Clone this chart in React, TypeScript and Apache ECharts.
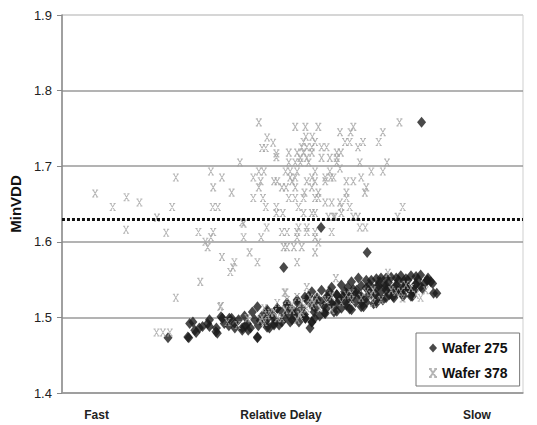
import React, { useEffect, useRef } from "react";
import * as echarts from "echarts";

// ---- data ----
const seriesNames = ["Wafer 275", "Wafer 378"];
const yTicks = { min: 1.4, max: 1.9, step: 0.1 };
const thresholdMinVDD = 1.625;
const xTickValues = [7.5, 47.5, 90];
const xTickLabels = ["Fast", "Relative Delay", "Slow"];

// Wafer 275 (dark diamonds): [relative delay, MinVDD]
const wafer275: number[][] = [
  [23.0, 1.473], [27.5, 1.473], [28.4, 1.494], [29.1, 1.48], [29.8, 1.486], [30.5, 1.488],
  [31.6, 1.492], [32.0, 1.497], [33.5, 1.486], [33.7, 1.479], [34.8, 1.499], [35.2, 1.492],
  [36.8, 1.499], [37.5, 1.492], [37.5, 1.486], [38.3, 1.497], [39.1, 1.486], [39.6, 1.502],
  [40.2, 1.492], [40.4, 1.483], [41.3, 1.507], [41.8, 1.497], [42.4, 1.514], [42.4, 1.473],
  [42.6, 1.489], [43.4, 1.502], [44.1, 1.494], [44.5, 1.51], [45.0, 1.486], [45.6, 1.504],
  [46.2, 1.497], [46.7, 1.512], [47.1, 1.49], [47.7, 1.507], [48.3, 1.499], [48.8, 1.516],
  [49.5, 1.494], [49.9, 1.51], [50.4, 1.502], [51.0, 1.52], [51.4, 1.494], [52.0, 1.512],
  [52.6, 1.504], [52.8, 1.499], [53.1, 1.523], [53.8, 1.486], [54.2, 1.494], [54.2, 1.516],
  [54.7, 1.507], [55.3, 1.526], [55.9, 1.502], [56.3, 1.52], [57.1, 1.505], [57.4, 1.512],
  [57.8, 1.528], [58.5, 1.518], [59.0, 1.507], [59.6, 1.53], [60.2, 1.523], [60.6, 1.512],
  [61.3, 1.534], [61.7, 1.518], [62.2, 1.526], [62.8, 1.51], [63.2, 1.537], [63.7, 1.52],
  [64.3, 1.53], [64.9, 1.542], [65.4, 1.514], [66.0, 1.526], [66.5, 1.536], [67.1, 1.549],
  [67.6, 1.518], [68.0, 1.531], [68.7, 1.542], [69.2, 1.552], [69.6, 1.523], [70.3, 1.536],
  [70.8, 1.546], [71.4, 1.553], [71.8, 1.528], [72.3, 1.54], [73.0, 1.549], [73.5, 1.555],
  [73.9, 1.531], [74.5, 1.541], [75.0, 1.549], [75.7, 1.555], [76.1, 1.534], [76.7, 1.544],
  [77.2, 1.55], [77.8, 1.556], [78.2, 1.538], [78.6, 1.545], [79.2, 1.549], [80.0, 1.547],
  [81.3, 1.532], [44.8, 1.5], [50.8, 1.507], [56.8, 1.515], [61.0, 1.528], [65.0, 1.52],
  [68.5, 1.526], [72.8, 1.535], [75.3, 1.538], [74.2, 1.548], [70.0, 1.541], [66.8, 1.543],
  [63.5, 1.532], [59.5, 1.517], [55.0, 1.512], [49.0, 1.505], [46.0, 1.492], [43.0, 1.496],
  [39.8, 1.489], [36.2, 1.489], [58.0, 1.534], [62.0, 1.54], [53.5, 1.528], [69.0, 1.547],
  [71.0, 1.53], [74.0, 1.528], [76.0, 1.528], [76.8, 1.554], [79.3, 1.549], [80.4, 1.545],
  [73.5, 1.534], [75.0, 1.539], [76.4, 1.536], [77.8, 1.541], [52.8, 1.499], [54.2, 1.494],
  [54.2, 1.534], [56.3, 1.536], [58.5, 1.54], [60.6, 1.543], [62.8, 1.547], [64.3, 1.552],
  [66.0, 1.549], [68.2, 1.551], [70.3, 1.552], [72.5, 1.552], [74.6, 1.551], [79.4, 1.552],
  [54.8, 1.499], [57.0, 1.506], [59.6, 1.508], [62.4, 1.511], [64.9, 1.514], [68.2, 1.519],
  [72.0, 1.526], [75.7, 1.528], [80.6, 1.532], [55.3, 1.523], [57.4, 1.527], [59.6, 1.53],
  [61.7, 1.532], [63.9, 1.536], [66.0, 1.539], [68.2, 1.54], [70.3, 1.542], [72.5, 1.543],
  [74.6, 1.543], [76.8, 1.544], [58.5, 1.519], [60.6, 1.523], [62.8, 1.526], [64.9, 1.528],
  [67.1, 1.531], [69.2, 1.534], [71.4, 1.536], [73.5, 1.538], [61.7, 1.516], [66.0, 1.52],
  [70.3, 1.526], [27.7, 1.492], [28.8, 1.483], [27.3, 1.474], [32.0, 1.488], [33.4, 1.481],
  [34.5, 1.501], [36.3, 1.499], [42.4, 1.474], [39.1, 1.483], [40.9, 1.486], [44.5, 1.487],
  [46.0, 1.49], [47.7, 1.494], [49.9, 1.497], [44.5, 1.507], [46.7, 1.512], [48.8, 1.519],
  [51.0, 1.523], [52.7, 1.527],
  [78.0, 1.758], [56.2, 1.619], [66.2, 1.586], [48.1, 1.566],
];

// Wafer 378 (grey crosses): [relative delay, MinVDD]
const wafer378: number[][] = [
  [7.2, 1.664], [11.0, 1.646], [14.0, 1.659], [16.8, 1.652], [13.9, 1.616], [20.6, 1.632],
  [22.6, 1.612], [23.9, 1.646], [24.7, 1.685], [24.7, 1.526], [20.5, 1.48], [21.9, 1.48],
  [23.4, 1.48], [42.7, 1.758], [44.5, 1.738], [45.8, 1.731], [43.4, 1.724], [44.2, 1.724],
  [46.5, 1.717], [46.5, 1.712], [49.2, 1.718], [38.6, 1.705], [32.3, 1.693], [34.7, 1.685],
  [42.7, 1.693], [43.8, 1.693], [41.5, 1.685], [43.1, 1.68], [46.0, 1.68], [46.7, 1.68],
  [47.7, 1.672], [48.6, 1.672], [32.8, 1.672], [42.7, 1.672], [36.8, 1.665], [41.5, 1.658],
  [43.6, 1.658], [32.7, 1.646], [33.8, 1.646], [44.2, 1.646], [46.5, 1.646], [46.5, 1.638],
  [47.9, 1.638], [29.6, 1.613], [32.8, 1.613], [32.3, 1.606], [39.4, 1.606], [43.2, 1.606],
  [47.7, 1.613], [44.4, 1.619], [39.1, 1.626], [39.4, 1.624], [31.1, 1.6], [31.6, 1.593],
  [48.1, 1.593], [40.7, 1.586], [34.7, 1.58], [37.4, 1.573], [37.1, 1.566], [36.5, 1.56],
  [42.4, 1.573], [30.0, 1.547], [48.3, 1.533], [34.3, 1.514],
  [50.6, 1.752], [52.8, 1.752], [55.6, 1.752], [63.2, 1.752], [73.2, 1.758], [60.3, 1.745],
  [62.6, 1.745], [69.6, 1.745], [52.9, 1.739], [54.3, 1.739], [52.4, 1.732], [54.9, 1.732],
  [61.4, 1.732], [62.4, 1.732], [65.3, 1.732], [68.7, 1.732], [52.0, 1.725], [53.1, 1.725],
  [54.2, 1.725], [56.3, 1.725], [57.4, 1.725], [64.2, 1.725], [51.0, 1.718], [52.4, 1.718],
  [54.2, 1.718], [59.6, 1.718], [60.5, 1.718], [51.7, 1.711], [53.1, 1.711], [56.3, 1.711],
  [58.1, 1.711], [59.6, 1.711], [49.2, 1.705], [50.6, 1.705], [51.7, 1.705], [53.5, 1.705],
  [59.6, 1.705], [64.6, 1.705], [70.5, 1.705], [60.3, 1.697], [48.5, 1.693], [49.5, 1.693],
  [51.0, 1.693], [54.9, 1.693], [58.1, 1.693], [67.1, 1.693], [69.6, 1.693], [49.5, 1.685],
  [50.6, 1.685], [54.2, 1.685], [57.1, 1.685], [58.3, 1.685], [58.9, 1.685], [64.9, 1.685],
  [49.9, 1.68], [53.1, 1.68], [54.9, 1.68], [57.1, 1.68], [61.7, 1.68], [63.2, 1.68],
  [50.6, 1.672], [54.2, 1.672], [66.0, 1.672], [52.6, 1.665], [55.6, 1.665], [61.7, 1.665],
  [65.7, 1.665], [49.2, 1.658], [50.6, 1.658], [52.4, 1.658], [54.9, 1.658], [55.6, 1.658],
  [61.7, 1.658], [57.1, 1.652], [58.5, 1.652], [60.3, 1.652], [51.3, 1.646], [60.6, 1.646],
  [62.4, 1.646], [73.9, 1.646], [52.4, 1.638], [54.2, 1.638], [54.9, 1.638], [60.6, 1.638],
  [57.8, 1.633], [58.9, 1.633], [59.2, 1.633], [63.2, 1.633], [64.2, 1.633], [72.8, 1.633],
  [51.3, 1.619], [53.1, 1.619], [64.6, 1.619], [65.8, 1.619], [48.8, 1.613], [51.0, 1.613],
  [53.1, 1.613], [54.9, 1.613], [58.5, 1.613], [51.0, 1.606], [54.9, 1.606], [55.6, 1.599],
  [48.8, 1.593], [50.3, 1.593], [52.0, 1.593], [54.9, 1.586], [51.0, 1.573], [70.7, 1.559],
  [59.4, 1.552], [53.1, 1.54],
  [38.1, 1.49], [40.2, 1.499], [43.0, 1.497], [44.5, 1.503], [46.0, 1.507], [47.7, 1.499],
  [49.9, 1.51], [52.0, 1.507], [54.2, 1.516], [55.9, 1.512], [57.4, 1.523], [58.5, 1.51],
  [60.6, 1.52], [62.8, 1.523], [64.9, 1.526], [67.1, 1.53], [69.2, 1.523], [71.4, 1.536],
  [73.5, 1.534], [76.8, 1.53], [78.9, 1.536], [48.5, 1.533], [51.0, 1.527], [34.5, 1.515],
  [35.9, 1.494], [43.9, 1.512], [46.7, 1.519], [48.8, 1.523], [52.0, 1.519], [55.3, 1.526],
  [61.7, 1.53], [66.0, 1.534], [74.6, 1.543], [77.8, 1.526],
  [43.4, 1.499], [45.2, 1.506], [46.7, 1.499], [48.4, 1.51], [49.9, 1.516], [51.6, 1.503],
  [53.1, 1.512], [54.6, 1.52], [43.9, 1.494], [51.0, 1.497], [53.8, 1.526], [58.5, 1.528],
  [62.8, 1.532], [67.5, 1.536], [72.5, 1.534], [75.7, 1.539], [73.9, 1.525], [67.5, 1.519],
];

const FONT = 'Arial, "Liberation Sans", sans-serif';
const CROSS =
  "path://M0,0L3.5,0M6.5,0L10,0M1.5,0L8.5,10M8.5,0L1.5,10M0,10L3.5,10M6.5,10L10,10";

export default function App() {
  const ref = useRef<HTMLDivElement>(null);
  useEffect(() => {
    if (!ref.current) return;
    const chart = echarts.init(ref.current, undefined, { renderer: "svg" });
    chart.setOption({
      animation: false,
      backgroundColor: "#ffffff",
      textStyle: { fontFamily: FONT },
      grid: {
        left: 58,
        right: 14,
        top: 15,
        bottom: 32,
        show: true,
        borderColor: "#cfcfcf",
        borderWidth: 1,
      },
      legend: {
        orient: "vertical",
        left: 416,
        top: 333,
        padding: [8, 12, 6, 12],
        itemGap: 11,
        itemWidth: 8,
        itemHeight: 9,
        borderColor: "#777",
        borderWidth: 1,
        backgroundColor: "#fff",
        textStyle: { fontFamily: FONT, fontWeight: "bold", fontSize: 14, color: "#111" },
        data: seriesNames,
      },
      xAxis: {
        type: "value",
        min: 0,
        max: 100,
        interval: 2.5,
        splitLine: { show: false },
        axisTick: { show: false },
        axisLine: { show: true, lineStyle: { color: "#9a9a9a", width: 1.5 } },
        axisLabel: {
          margin: 16,
          fontFamily: FONT,
          fontWeight: "bold",
          fontSize: 12,
          color: "#222",
          formatter: (v: number) => {
            const i = xTickValues.findIndex((t) => Math.abs(t - v) < 0.01);
            return i >= 0 ? xTickLabels[i] : "";
          },
        },
      },
      yAxis: {
        type: "value",
        min: yTicks.min,
        max: yTicks.max,
        interval: yTicks.step,
        name: "MinVDD",
        nameLocation: "middle",
        nameGap: 32,
        nameTextStyle: { fontFamily: FONT, fontWeight: "bold", fontSize: 15, color: "#111" },
        axisLine: { show: true, lineStyle: { color: "#888", width: 1.5 } },
        axisTick: { show: true, length: 5, lineStyle: { color: "#888" } },
        axisLabel: {
          margin: 10,
          fontFamily: FONT,
          fontSize: 13,
          color: "#222",
          formatter: (v: number) => v.toFixed(1),
        },
        splitLine: {
          show: true,
          lineStyle: {
            color: ["#9a9a9a", "#9a9a9a", "#9a9a9a", "#9a9a9a", "#9a9a9a", "#d0d0d0"],
            width: 1.5,
          },
        },
      },
      series: [
        {
          name: seriesNames[0],
          type: "scatter",
          symbol: "diamond",
          symbolSize: [9, 11],
          itemStyle: { color: "#1c1c1c" },
          data: wafer275,
          markLine: {
            silent: true,
            symbol: "none",
            label: { show: false },
            lineStyle: { color: "#111", type: [3, 2], width: 3 },
            data: [{ yAxis: thresholdMinVDD }],
          },
          z: 2,
        },
        {
          name: seriesNames[1],
          type: "scatter",
          symbol: CROSS,
          symbolSize: [6, 7],
          itemStyle: { color: "transparent", borderColor: "#a2a2a2", borderWidth: 1 },
          data: wafer378,
          z: 3,
        },
      ],
    });
    return () => chart.dispose();
  }, []);
  return (
    <div
      ref={ref}
      style={{ position: "fixed", left: 0, top: 0, width: 537, height: 425, background: "#fff" }}
    />
  );
}
